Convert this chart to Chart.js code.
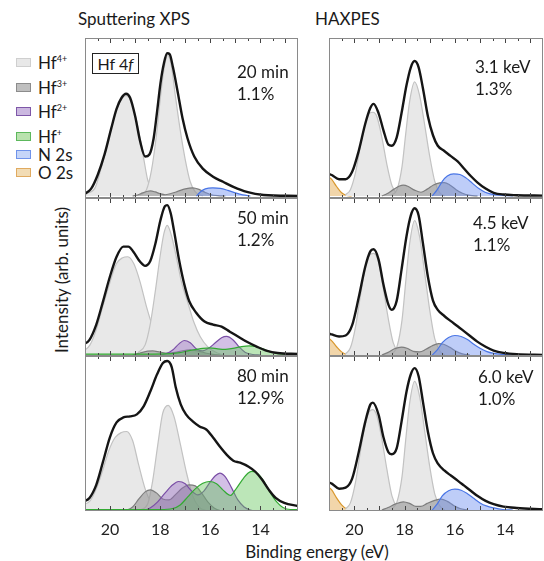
<!DOCTYPE html>
<html>
<head>
<meta charset="utf-8">
<script src="https://cdn.jsdelivr.net/npm/chart.js@4.4.0/dist/chart.umd.min.js"></script>
<style>
  body { margin: 0; width: 544px; height: 561px; overflow: hidden; background: #fff; font-family: Lato, sans-serif; color: #1a1a1a; }
  canvas { position: absolute; }
  .t { position: absolute; font-size: 17px; line-height: 22px; white-space: nowrap; }
  .box { position: absolute; left: 16px; width: 13px; height: 7px; border: 1.5px solid; }
  .leg { position: absolute; left: 38px; font-size: 17px; line-height: 20px; white-space: nowrap; }
  .leg sup { font-size: 9px; vertical-align: 7px; line-height: 0; }
</style>
</head>
<body>
<div class="t" style="left:78px;top:8px">Sputtering XPS</div>
<div class="t" style="left:315px;top:8px">HAXPES</div>

<div class="box" style="top:58px;background:#e8e8e8;border-color:#cfcfcf"></div>
<div class="leg" style="top:53px">Hf<sup>4+</sup></div>
<div class="box" style="top:83px;background:#bfbfbf;border-color:#8c8c8c"></div>
<div class="leg" style="top:78px">Hf<sup>3+</sup></div>
<div class="box" style="top:107px;background:#cbb8e0;border-color:#7e57a8"></div>
<div class="leg" style="top:102px">Hf<sup>2+</sup></div>
<div class="box" style="top:132px;background:#b9e2ae;border-color:#5cb85c"></div>
<div class="leg" style="top:127px">Hf<sup>+</sup></div>
<div class="box" style="top:150px;background:#c5d5f8;border-color:#6f93ea"></div>
<div class="leg" style="top:145px">N 2s</div>
<div class="box" style="top:168px;background:#f2dcb5;border-color:#e0aa60"></div>
<div class="leg" style="top:163px">O 2s</div>

<div class="t" style="left:-18px;top:269px;width:160px;text-align:center;transform:rotate(-90deg)">Intensity (arb. units)</div>
<div class="t" style="left:217px;top:541px;width:200px;text-align:center">Binding energy (eV)</div>

<canvas id="tl" width="213" height="160" style="left:85px;top:38px"></canvas>
<canvas id="ml" width="213" height="158" style="left:85px;top:198px"></canvas>
<canvas id="bl" width="213" height="185" style="left:85px;top:356px"></canvas>
<canvas id="tr" width="214" height="160" style="left:329px;top:38px"></canvas>
<canvas id="mr" width="214" height="158" style="left:329px;top:198px"></canvas>
<canvas id="br" width="214" height="185" style="left:329px;top:356px"></canvas>

<div class="t" style="left:92px;top:53px;width:45px;height:19px;line-height:19px;font-size:16px;text-align:center;border:1.5px solid #222;background:#fff">Hf 4<i>f</i></div>

<div class="t" style="left:237px;top:61px">20 min<br>1.1%</div>
<div class="t" style="left:237px;top:207px">50 min<br>1.2%</div>
<div class="t" style="left:237px;top:365px">80 min<br>12.9%</div>
<div class="t" style="left:475px;top:56px">3.1 keV<br>1.3%</div>
<div class="t" style="left:473px;top:212px">4.5 keV<br>1.1%</div>
<div class="t" style="left:478px;top:366px">6.0 keV<br>1.0%</div>

<script>
// [binding energy (eV), intensity (arb. units)]

// 20 min sputtered
var tlEnv = [[21.09,1],[20.76,7],[20.49,21],[20.22,41],[19.95,67],[19.74,86],[19.54,97],[19.36,101],[19.2,97],[19.0,79],[18.8,54],[18.6,39],[18.43,41],[18.26,57],[18.12,84],[17.99,111],[17.85,131],[17.72,141],[17.62,140],[17.49,127],[17.31,104],[17.11,77],[16.91,57],[16.64,39],[16.3,27],[15.89,19],[15.49,14],[15.08,9],[14.54,4],[13.87,1],[12.5,0]];
var tlHf4a = [[21.0,2],[20.6,8],[20.35,28],[20.1,52],[19.9,72],[19.7,88],[19.5,97],[19.36,99],[19.2,95],[19.0,80],[18.8,57],[18.65,36],[18.5,16],[18.3,4],[18.0,0]];
var tlHf4b = [[18.8,1],[18.55,6],[18.35,25],[18.15,60],[18.0,95],[17.85,125],[17.7,139],[17.55,128],[17.4,100],[17.2,65],[17.0,36],[16.8,14],[16.6,4],[16.3,0]];
var tlHf3 = [[19.1,0],[18.9,1],[18.7,3],[18.5,4.7],[18.39,5],[18.2,4],[18.0,2.2],[17.8,1.2],[17.6,2.2],[17.3,4.5],[17.0,7],[16.7,8],[16.45,6.5],[16.2,3.5],[16.0,1.5],[15.7,0.3],[15.4,0]];
var tlN2s = [[16.55,0],[16.4,4],[16.2,7],[15.9,8],[15.6,7.5],[15.3,5.5],[15.0,3],[14.7,1],[14.4,0]];

// 50 min sputtered
var mlEnv = [[21.09,10],[20.82,15],[20.55,30],[20.28,53],[20.01,77],[19.74,97],[19.47,107],[19.27,107],[19.07,102],[18.8,92],[18.6,88],[18.39,93],[18.19,110],[17.99,133],[17.81,147],[17.72,148],[17.58,140],[17.45,123],[17.24,93],[17.04,70],[16.84,53],[16.57,42],[16.23,33],[15.89,30],[15.55,28],[15.22,23],[14.88,18],[14.54,13],[14.13,8],[13.73,4],[13.32,2],[12.5,1]];
var mlHf4a = [[21.1,3],[20.8,10],[20.55,25],[20.3,47],[20.0,72],[19.75,90],[19.5,96],[19.29,97],[19.05,90],[18.8,72],[18.55,48],[18.3,28],[18.05,14],[17.8,5],[17.5,1],[17.2,0]];
var mlHf4b = [[18.9,2],[18.6,10],[18.4,30],[18.2,62],[18.0,98],[17.85,120],[17.72,128],[17.55,118],[17.35,96],[17.15,72],[16.9,52],[16.65,32],[16.4,18],[16.1,8],[15.8,3],[15.5,0]];
var mlHf3 = [[19.1,0],[18.8,2],[18.5,3.8],[18.3,4],[18.0,2.8],[17.7,1.8],[17.4,2.5],[17.1,4.2],[16.8,5],[16.5,4],[16.2,2],[15.9,0.6],[15.6,0]];
var mlHf2 = [[18.0,0],[17.75,1.5],[17.5,5],[17.25,11],[17.04,14.3],[16.8,12],[16.55,6],[16.3,4],[16.05,7],[15.8,12],[15.55,17],[15.35,18.3],[15.1,15],[14.85,8],[14.6,2.5],[14.3,0.5],[14.0,0]];
var mlHf1 = [[21.1,0.8],[19.0,0.8],[17.8,1],[17.3,2],[16.8,4.5],[16.3,6.5],[16.0,7],[15.7,6],[15.4,5.5],[15.1,6.5],[14.8,8],[14.45,9],[14.2,8.5],[13.9,6],[13.6,3],[13.3,1.2],[13.0,0.8],[12.4,0.8]];

// 80 min sputtered
var blEnv = [[21.09,9],[20.82,13],[20.55,26],[20.28,49],[20.01,73],[19.74,88],[19.47,93],[19.2,94],[18.93,96],[18.66,104],[18.39,119],[18.12,136],[17.89,147],[17.72,149],[17.54,143],[17.38,123],[17.18,106],[16.97,96],[16.7,89],[16.43,84],[16.16,81],[15.89,73],[15.62,64],[15.35,56],[15.08,50],[14.81,48],[14.47,44],[14.2,39],[13.93,31],[13.66,21],[13.39,13],[13.05,8],[12.5,5]];
var blHf4a = [[21.1,6],[20.8,10],[20.55,22],[20.3,40],[20.05,60],[19.8,73],[19.55,78],[19.34,79],[19.1,70],[18.86,46],[18.6,22],[18.35,8],[18.1,3],[17.8,1],[17.5,0]];
var blHf4b = [[18.8,1],[18.5,7],[18.3,30],[18.1,65],[17.9,97],[17.68,105],[17.45,94],[17.2,67],[16.95,38],[16.7,15],[16.45,4],[16.1,0]];
var blHf3 = [[19.4,0],[19.1,4],[18.85,12],[18.6,19],[18.39,21],[18.15,18],[17.9,12],[17.65,11],[17.4,16],[17.1,23],[16.85,26],[16.6,25],[16.35,18],[16.1,9],[15.85,3],[15.6,0.5],[15.3,0]];
var blHf2 = [[18.7,0],[18.4,3],[18.1,9],[17.8,18],[17.5,26],[17.27,29.3],[17.0,27],[16.75,20],[16.5,16],[16.25,20],[16.0,29],[15.8,35],[15.62,37.7],[15.4,34],[15.15,23],[14.9,11],[14.65,4],[14.4,1],[14.1,0]];
var blHf1 = [[21.1,1.5],[18.0,1.5],[17.5,2.5],[17.2,6],[16.9,14],[16.6,22],[16.3,27.5],[16.03,29.3],[15.75,27],[15.5,21],[15.2,15.5],[15.0,21],[14.75,30],[14.5,37.5],[14.34,39.3],[14.1,37],[13.85,29],[13.6,18],[13.35,9],[13.1,3.5],[12.8,1.5],[12.4,1.5]];

// HAXPES 3.1 keV
var trEnv = [[21.0,21],[20.89,20],[20.6,16],[20.34,16],[20.08,23],[19.82,43],[19.56,69],[19.36,84],[19.23,88],[19.03,79],[18.84,63],[18.64,49],[18.51,48],[18.31,56],[18.12,79],[17.92,106],[17.75,123],[17.6,129],[17.44,123],[17.27,103],[17.07,76],[16.87,58],[16.68,48],[16.42,43],[16.16,38],[15.89,33],[15.63,26],[15.37,19],[15.11,13],[14.78,7],[14.46,3],[14.07,1.3],[13.54,0.7],[12.5,0.3]];
var trO2s = [[21.1,20],[20.9,16],[20.7,9],[20.5,3],[20.3,0.5],[20.1,0]];
var trHf4a = [[20.35,1],[20.15,6],[19.95,22],[19.75,48],[19.55,70],[19.4,79],[19.25,80],[19.1,76],[18.9,56],[18.7,30],[18.5,10],[18.3,2],[18.1,0]];
var trHf4b = [[18.5,1],[18.3,6],[18.1,28],[17.95,60],[17.8,90],[17.6,109],[17.4,96],[17.2,68],[17.0,38],[16.8,14],[16.6,3],[16.4,0]];
var trHf3 = [[18.9,0],[18.7,2],[18.45,6],[18.2,9.5],[18.05,10.3],[17.85,9],[17.6,5.5],[17.35,3.5],[17.1,6.5],[16.85,10.5],[16.6,12.5],[16.42,12.7],[16.2,10.5],[15.95,6],[15.7,2.5],[15.4,0.5],[15.1,0]];
var trN2s = [[16.9,0],[16.7,6],[16.5,14],[16.3,19],[16.05,21],[15.8,20.5],[15.55,17],[15.3,12],[15.05,7],[14.8,3.5],[14.5,1.5],[14.1,0.5],[13.7,0]];

// HAXPES 4.5 keV
var mrEnv = [[21.0,21],[20.89,20],[20.6,18],[20.34,19],[20.08,29],[19.82,56],[19.56,86],[19.36,101],[19.23,103],[19.03,93],[18.84,69],[18.64,49],[18.51,44],[18.31,53],[18.12,83],[17.92,116],[17.75,136],[17.6,143],[17.44,136],[17.27,109],[17.07,76],[16.87,53],[16.68,44],[16.42,38],[16.16,33],[15.89,28],[15.63,23],[15.37,18],[15.11,13],[14.78,8],[14.46,4.3],[14.07,2],[13.54,0.7],[12.5,0]];
var mrO2s = [[21.1,18],[20.9,14],[20.7,8],[20.5,3],[20.3,0.5],[20.1,0]];
var mrHf4a = [[20.35,1],[20.15,7],[19.95,27],[19.75,58],[19.55,86],[19.4,97],[19.23,99],[19.05,92],[18.85,66],[18.65,36],[18.45,12],[18.25,3],[18.05,0]];
var mrHf4b = [[18.5,1],[18.3,8],[18.1,34],[17.95,72],[17.8,108],[17.6,131],[17.4,115],[17.2,80],[17.0,44],[16.8,16],[16.6,4],[16.4,0]];
var mrHf3 = [[18.9,0],[18.65,2.5],[18.4,6],[18.12,7.7],[17.9,6.5],[17.65,3.5],[17.4,3],[17.15,5.5],[16.9,9],[16.65,11],[16.45,10.5],[16.2,7.5],[15.95,3.5],[15.7,1],[15.4,0]];
var mrN2s = [[16.9,0],[16.7,5],[16.5,12],[16.25,17],[16.0,19],[15.75,18],[15.5,15],[15.25,10.5],[15.0,6.5],[14.75,3.5],[14.45,1.5],[14.1,0.5],[13.7,0]];

// HAXPES 6.0 keV
var brEnv = [[21.0,27],[20.89,26],[20.6,21],[20.34,22],[20.08,31],[19.82,57],[19.56,87],[19.36,104],[19.26,106],[19.03,94],[18.84,72],[18.64,57],[18.51,55],[18.31,61],[18.12,87],[17.92,117],[17.75,134],[17.6,140],[17.44,132],[17.27,107],[17.07,77],[16.87,56],[16.68,46],[16.42,39],[16.16,34],[15.89,29],[15.63,24],[15.37,19],[15.11,14],[14.78,9],[14.46,5.7],[14.07,3.3],[13.54,2],[12.5,0.7]];
var brO2s = [[21.1,24],[20.9,20],[20.7,12],[20.5,5],[20.3,1],[20.1,0]];
var brHf4a = [[20.35,1],[20.15,7],[19.95,27],[19.75,58],[19.55,86],[19.4,97],[19.26,99],[19.1,93],[18.9,70],[18.7,40],[18.5,14],[18.3,3],[18.1,0]];
var brHf4b = [[18.5,1],[18.3,8],[18.1,33],[17.95,70],[17.8,105],[17.6,127],[17.4,112],[17.2,78],[17.0,43],[16.8,16],[16.6,4],[16.4,0]];
var brHf3 = [[18.9,0],[18.65,2.5],[18.35,6],[18.05,8],[17.8,6.5],[17.55,3.5],[17.35,3.5],[17.1,6.5],[16.8,9.5],[16.55,10.7],[16.3,8.5],[16.05,4.5],[15.8,1.5],[15.5,0]];
var brN2s = [[16.9,0],[16.7,6],[16.5,14],[16.25,19],[16.0,20.5],[15.75,19.5],[15.5,16],[15.25,11.5],[15.0,7],[14.75,4],[14.45,2],[14.1,0.5],[13.7,0]];

var xTickLabels = [20, 18, 16, 14];

var colors = {
  hf4: ['#e8e8e8', '#c2c2c2'],
  hf3: ['rgba(150,150,150,0.6)', '#7d7d7d'],
  hf2: ['rgba(150,105,195,0.42)', '#7a4ea6'],
  hf1: ['rgba(95,195,85,0.42)', '#33aa33'],
  n2s: ['rgba(110,145,240,0.45)', '#4a76e6'],
  o2s: ['rgba(232,180,100,0.55)', '#d9982e']
};

function curve(pts, c, order) {
  return {
    data: pts.map(p => ({ x: p[0], y: p[1] })),
    backgroundColor: c[0],
    borderColor: c[1],
    borderWidth: 1.2,
    fill: 'origin',
    pointRadius: 0,
    cubicInterpolationMode: 'monotone',
    order: order
  };
}

function envelope(pts) {
  return {
    data: pts.map(p => ({ x: p[0], y: p[1] })),
    borderColor: '#151515',
    borderWidth: 2.4,
    fill: false,
    pointRadius: 0,
    cubicInterpolationMode: 'monotone',
    order: 0
  };
}

// panel frame + inward ticks every 0.5 eV
var frame = {
  id: 'frame',
  afterDatasetsDraw(chart) {
    var a = chart.chartArea, xs = chart.scales.x, c = chart.ctx;
    c.save();
    c.strokeStyle = '#444';
    c.lineWidth = 1;
    c.beginPath();
    for (var v = 13; v <= 21; v += 0.5) {
      var px = Math.round(xs.getPixelForValue(v)) + 0.5;
      var len = v % 1 === 0 ? 5 : 3;
      c.moveTo(px, a.bottom); c.lineTo(px, a.bottom - len);
      c.moveTo(px, a.top); c.lineTo(px, a.top + len);
    }
    c.stroke();
    c.strokeStyle = '#8a8a8a';
    c.strokeRect(a.left + 0.5, a.top + 0.5, a.width - 1, a.height - 1);
    c.restore();
  }
};

function fitBottom(s) {
  s.height = 30;
  s.paddingLeft = 0;
  s.paddingRight = 0;
}

function makePanel(id, datasets, ymin, ymax, bottom) {
  return new Chart(document.getElementById(id), {
    type: 'line',
    data: { datasets: datasets },
    options: {
      responsive: false,
      animation: false,
      layout: { padding: 0 },
      plugins: { legend: { display: false }, tooltip: { enabled: false } },
      scales: {
        x: {
          type: 'linear',
          reverse: true,
          min: 12.5,
          max: 21,
          display: bottom,
          grid: { display: false },
          border: { display: false },
          afterFit: bottom ? fitBottom : undefined,
          ticks: {
            stepSize: 1,
            autoSkip: false,
            maxRotation: 0,
            padding: 1,
            color: '#222',
            font: { family: 'Lato', size: 16 },
            callback: v => (xTickLabels.indexOf(v) >= 0 ? String(v) : '')
          }
        },
        y: { display: false, min: ymin, max: ymax }
      }
    },
    plugins: [frame]
  });
}

makePanel('tl', [
  envelope(tlEnv),
  curve(tlN2s, colors.n2s, 3),
  curve(tlHf3, colors.hf3, 4),
  curve(tlHf4b, colors.hf4, 5),
  curve(tlHf4a, colors.hf4, 6)
], -2, 156, false);

makePanel('ml', [
  envelope(mlEnv),
  curve(mlHf1, colors.hf1, 1),
  curve(mlHf2, colors.hf2, 2),
  curve(mlHf3, colors.hf3, 4),
  curve(mlHf4b, colors.hf4, 5),
  curve(mlHf4a, colors.hf4, 6)
], -1, 155, false);

makePanel('bl', [
  envelope(blEnv),
  curve(blHf1, colors.hf1, 1),
  curve(blHf2, colors.hf2, 2),
  curve(blHf3, colors.hf3, 4),
  curve(blHf4b, colors.hf4, 5),
  curve(blHf4a, colors.hf4, 6)
], 0, 154, true);

makePanel('tr', [
  envelope(trEnv),
  curve(trN2s, colors.n2s, 3),
  curve(trHf3, colors.hf3, 4),
  curve(trHf4b, colors.hf4, 5),
  curve(trHf4a, colors.hf4, 6),
  curve(trO2s, colors.o2s, 7)
], -2, 151, false);

makePanel('mr', [
  envelope(mrEnv),
  curve(mrN2s, colors.n2s, 3),
  curve(mrHf3, colors.hf3, 4),
  curve(mrHf4b, colors.hf4, 5),
  curve(mrHf4a, colors.hf4, 6),
  curve(mrO2s, colors.o2s, 7)
], -1, 153, false);

makePanel('br', [
  envelope(brEnv),
  curve(brN2s, colors.n2s, 3),
  curve(brHf3, colors.hf3, 4),
  curve(brHf4b, colors.hf4, 5),
  curve(brHf4a, colors.hf4, 6),
  curve(brO2s, colors.o2s, 7)
], -1, 152, true);
</script>
</body>
</html>
